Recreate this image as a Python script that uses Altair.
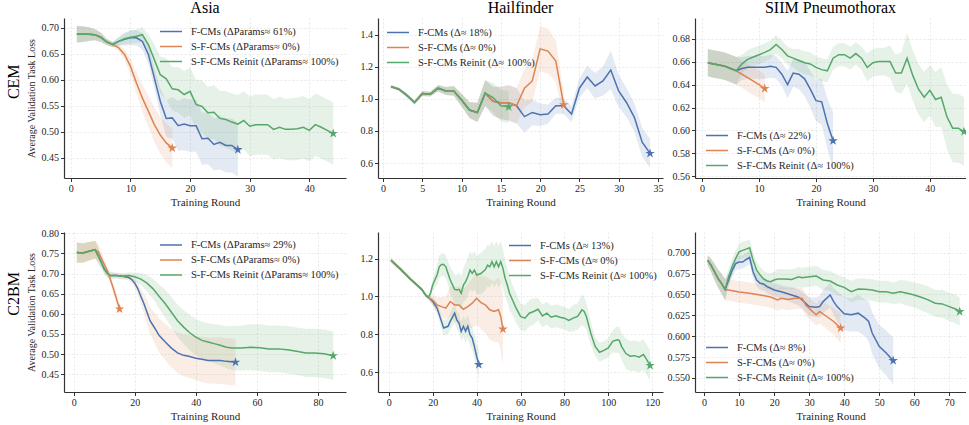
import altair as alt
import pandas as pd

BLUE, ORANGE, GREEN = "#4C72B0", "#DD8452", "#55A868"
FONT = "Liberation Serif"
STAR = ("M0,-1L0.225,-0.309L0.951,-0.309L0.363,0.118L0.588,0.809L0,0.382"
        "L-0.588,0.809L-0.363,0.118L-0.951,-0.309L-0.225,-0.309Z")

# ---------------- Asia / CEM ----------------
asia_cem_labels = ["F-CMs (ΔParams≈ 61%)", "S-F-CMs (ΔParams≈ 0%)", "S-F-CMs Reinit (ΔParams≈ 100%)"]
asia_cem_common_y = [0.688, 0.688, 0.688, 0.687, 0.682, 0.673, 0.668]
asia_cem_common_s = [0.016, 0.015, 0.013, 0.011, 0.009, 0.006, 0.005]
asia_cem_f_y = [0.674, 0.678, 0.681, 0.681, 0.674, 0.649, 0.604, 0.559, 0.526, 0.527, 0.512, 0.515,
                0.512, 0.512, 0.487, 0.488, 0.476, 0.480, 0.474, 0.474, 0.466]
asia_cem_f_s = [0.008, 0.012, 0.015, 0.015, 0.016, 0.018, 0.020, 0.025, 0.035, 0.040, 0.048, 0.050,
                0.050, 0.050, 0.050, 0.050, 0.050, 0.052, 0.052, 0.052, 0.052]
asia_cem_s_y = [0.662, 0.649, 0.626, 0.594, 0.565, 0.540, 0.514, 0.494, 0.479, 0.469]
asia_cem_s_s = [0.007, 0.010, 0.015, 0.020, 0.025, 0.030, 0.033, 0.035, 0.037, 0.038]
asia_cem_r_y = [0.674, 0.679, 0.682, 0.684, 0.687, 0.668, 0.639, 0.610, 0.602, 0.583, 0.581, 0.572,
                0.578, 0.553, 0.549, 0.537, 0.538, 0.526, 0.524, 0.519, 0.515, 0.522, 0.511, 0.514,
                0.514, 0.514, 0.505, 0.509, 0.505, 0.505, 0.506, 0.509, 0.503, 0.514, 0.509, 0.503, 0.497]
asia_cem_r_s = [0.008, 0.010, 0.012, 0.013, 0.014, 0.020, 0.030, 0.035, 0.040, 0.042, 0.044, 0.045,
                0.046, 0.048, 0.050, 0.050, 0.052, 0.053, 0.054, 0.055, 0.056, 0.056, 0.057, 0.058,
                0.058, 0.058, 0.058, 0.059, 0.059, 0.060, 0.060, 0.060, 0.060, 0.060, 0.060, 0.060, 0.060]

# ---------------- Hailfinder / CEM ----------------
hail_cem_labels = ["F-CMs (Δ≈ 18%)", "S-F-CMs (Δ≈ 0%)", "S-F-CMs Reinit (Δ≈ 100%)"]
hail_cem_common_y = [1.076, 1.060, 1.023, 0.977, 1.033, 1.029, 1.066, 1.049, 1.049, 0.992, 0.930, 0.915, 1.035]
hail_cem_common_s = [0.010, 0.010, 0.012, 0.012, 0.015, 0.015, 0.020, 0.025, 0.030, 0.040, 0.050, 0.060, 0.080]
hail_cem_shared_y = [0.985, 0.975, 0.975, 0.957]
hail_cem_shared_s = [0.090, 0.100, 0.110, 0.110]
hail_cem_f_y = [0.889, 0.915, 0.901, 0.905, 0.957, 0.957, 0.905, 1.066, 1.136, 1.080, 1.111, 1.179,
                1.049, 0.977, 0.885, 0.730, 0.660]
hail_cem_f_s = [0.100, 0.080, 0.070, 0.060, 0.050, 0.050, 0.050, 0.060, 0.070, 0.080, 0.090, 0.120,
                0.100, 0.090, 0.090, 0.090, 0.090]
hail_cem_s_y = [1.066, 1.111, 1.311, 1.297, 1.235, 0.963]
hail_cem_s_s = [0.120, 0.130, 0.140, 0.140, 0.130, 0.080]
hail_cem_r_y = [1.008, 0.957, 0.950]
hail_cem_r_s = [0.090, 0.100, 0.100]

# ---------------- SIIM / CEM ----------------
siim_cem_labels = ["F-CMs (Δ≈ 22%)", "S-F-CMs (Δ≈ 0%)", "S-F-CMs Reinit (Δ≈ 100%)"]
siim_cem_common_y = [0.659, 0.658, 0.657, 0.656, 0.654, 0.652]
siim_cem_common_s = [0.012, 0.012, 0.012, 0.012, 0.012, 0.012]
siim_cem_f_y = [0.654, 0.655, 0.655, 0.655, 0.655, 0.656, 0.655, 0.649, 0.640, 0.650, 0.649, 0.645,
                0.636, 0.626, 0.625, 0.606, 0.591]
siim_cem_f_s = [0.010, 0.010, 0.010, 0.010, 0.010, 0.010, 0.010, 0.010, 0.012, 0.012, 0.013, 0.015,
                0.016, 0.018, 0.020, 0.022, 0.025]
siim_cem_s_y = [0.649, 0.646, 0.643, 0.640, 0.6365]
siim_cem_s_s = [0.012, 0.012, 0.012, 0.012, 0.012]
siim_cem_r_y = [0.658, 0.662, 0.664, 0.666, 0.668, 0.6705, 0.675, 0.6705, 0.665, 0.663, 0.661, 0.659,
                0.658, 0.655, 0.653, 0.652, 0.663, 0.666, 0.666, 0.663, 0.667, 0.663, 0.655, 0.659,
                0.660, 0.660, 0.660, 0.650, 0.650, 0.663, 0.648, 0.636, 0.629, 0.635, 0.627, 0.629,
                0.612, 0.602, 0.602, 0.599]
siim_cem_r_s = [0.008, 0.008, 0.008, 0.008, 0.008, 0.008, 0.008, 0.008, 0.008, 0.008, 0.010, 0.010,
                0.010, 0.010, 0.010, 0.010, 0.010, 0.010, 0.010, 0.010, 0.010, 0.010, 0.012, 0.012,
                0.012, 0.012, 0.014, 0.016, 0.018, 0.022, 0.022, 0.022, 0.022, 0.022, 0.024, 0.026,
                0.028, 0.030, 0.030, 0.030]

# ---------------- Asia / C2BM ----------------
asia_c2_labels = ["F-CMs (ΔParams≈ 29%)", "S-F-CMs (ΔParams≈ 0%)", "S-F-CMs Reinit (ΔParams≈ 100%)"]
asia_c2_common_x = [1, 3, 5, 7]
asia_c2_common_y = [0.752, 0.751, 0.755, 0.759]
asia_c2_common_s = [0.025, 0.024, 0.023, 0.022]
asia_c2_s_x = [8, 10, 11, 12, 13, 14, 15]
asia_c2_s_y = [0.754, 0.723, 0.707, 0.685, 0.662, 0.637, 0.612]
asia_c2_s_s = [0.020, 0.012, 0.010, 0.010, 0.012, 0.014, 0.015]
asia_c2_shared_x = [8, 9, 10, 11, 12, 14, 16]
asia_c2_shared_y = [0.744, 0.728, 0.711, 0.700, 0.695, 0.695, 0.693]
asia_c2_shared_s = [0.020, 0.015, 0.012, 0.010, 0.008, 0.007, 0.007]
asia_c2_f_x = [18, 19, 20, 21, 22, 23, 24, 25, 26, 27, 28, 30, 32, 34, 36, 38, 40, 42, 44, 46, 48, 50, 53]
asia_c2_f_y = [0.690, 0.685, 0.676, 0.662, 0.643, 0.625, 0.604, 0.583, 0.571, 0.559, 0.546, 0.530,
               0.515, 0.503, 0.497, 0.494, 0.490, 0.487, 0.484, 0.484, 0.484, 0.482, 0.480]
asia_c2_f_s = [0.008, 0.010, 0.012, 0.015, 0.020, 0.025, 0.030, 0.033, 0.036, 0.040, 0.042, 0.045,
               0.048, 0.050, 0.052, 0.053, 0.055, 0.056, 0.057, 0.057, 0.058, 0.058, 0.058]
asia_c2_r_x = [18, 20, 22, 24, 26, 28, 30, 32, 34, 36, 38, 40, 42, 44, 46, 48, 50, 52, 55, 58, 61, 64,
               67, 70, 73, 76, 79, 82, 85]
asia_c2_r_y = [0.695, 0.692, 0.686, 0.676, 0.662, 0.643, 0.625, 0.604, 0.583, 0.567, 0.553, 0.542,
               0.534, 0.530, 0.526, 0.522, 0.517, 0.515, 0.515, 0.517, 0.516, 0.513, 0.513, 0.511,
               0.507, 0.503, 0.503, 0.501, 0.496]
asia_c2_r_s = [0.008, 0.010, 0.015, 0.020, 0.025, 0.030, 0.035, 0.038, 0.040, 0.042, 0.044, 0.045,
               0.046, 0.047, 0.048, 0.050, 0.052, 0.055, 0.056, 0.057, 0.058, 0.058, 0.058, 0.059,
               0.059, 0.060, 0.060, 0.060, 0.060]

# ---------------- Hailfinder / C2BM ----------------
hail_c2_labels = ["F-CMs (Δ≈ 13%)", "S-F-CMs (Δ≈ 0%)", "S-F-CMs Reinit (Δ≈ 100%)"]
hail_c2_common_x = [1, 5, 10, 15, 17, 18]
hail_c2_common_y = [1.191, 1.148, 1.090, 1.037, 1.004, 0.995]
hail_c2_common_s = [0.012, 0.010, 0.008, 0.008, 0.008, 0.010]
hail_c2_f_x = [20, 22, 24, 25, 27, 28, 30, 31, 32, 33, 34, 35, 36, 37, 38, 39, 40, 41]
hail_c2_f_y = [0.973, 0.938, 0.868, 0.833, 0.842, 0.868, 0.911, 0.876, 0.859, 0.815, 0.842, 0.815,
               0.842, 0.798, 0.780, 0.736, 0.684, 0.640]
hail_c2_f_s = [0.020, 0.030, 0.035, 0.040, 0.040, 0.045, 0.050, 0.050, 0.050, 0.050, 0.055, 0.060,
               0.060, 0.060, 0.060, 0.065, 0.070, 0.075]
hail_c2_s_x = [20, 22, 24, 26, 27, 28, 30, 32, 34, 36, 38, 40, 42, 44, 46, 48, 50, 51, 52]
hail_c2_s_y = [0.981, 0.955, 0.946, 0.938, 0.955, 0.973, 0.955, 0.955, 0.932, 0.946, 0.964, 0.990,
               0.967, 0.955, 0.929, 0.920, 0.929, 0.894, 0.827]
hail_c2_s_s = [0.030, 0.040, 0.050, 0.060, 0.070, 0.080, 0.090, 0.100, 0.110, 0.120, 0.130, 0.140,
               0.140, 0.150, 0.160, 0.160, 0.170, 0.180, 0.190]
hail_c2_r_x = [19, 20, 22, 23, 24, 25, 26, 27, 28, 30, 31, 32, 33, 34, 35, 36, 37, 38, 39, 40, 42, 44,
               45, 46, 47, 48, 49, 50, 51, 52, 53, 54, 55, 56, 57, 58, 60, 62, 64, 66, 68, 70, 72, 74,
               76, 78, 80, 82, 84, 86, 88, 89, 90, 92, 94, 96, 98, 100, 102, 104, 105, 106, 108, 110,
               112, 114, 116, 117, 119]
hail_c2_r_y = [1.016, 1.060, 1.113, 1.156, 1.168, 1.168, 1.156, 1.121, 1.086, 1.037, 1.034, 1.037,
               1.016, 1.060, 1.078, 1.104, 1.139, 1.121, 1.139, 1.113, 1.121, 1.142, 1.165, 1.156,
               1.183, 1.156, 1.183, 1.156, 1.183, 1.148, 1.095, 1.060, 1.016, 0.990, 0.964, 0.938,
               0.894, 0.885, 0.911, 0.920, 0.932, 0.897, 0.911, 0.890, 0.897, 0.890, 0.885, 0.873,
               0.885, 0.894, 0.929, 0.920, 0.894, 0.806, 0.736, 0.705, 0.715, 0.728, 0.763, 0.771,
               0.768, 0.736, 0.698, 0.684, 0.687, 0.679, 0.693, 0.675, 0.635]
hail_c2_r_s = [0.020, 0.030, 0.050, 0.060, 0.060, 0.060, 0.060, 0.060, 0.070,
               0.080, 0.080, 0.090, 0.090, 0.090, 0.100, 0.100, 0.100, 0.100, 0.100, 0.100,
               0.110, 0.110, 0.110, 0.110, 0.110, 0.110, 0.110, 0.110, 0.110, 0.100,
               0.100, 0.090, 0.090, 0.080, 0.080, 0.080,
               0.070, 0.070, 0.070, 0.070, 0.060, 0.060, 0.060, 0.060, 0.060, 0.060, 0.060, 0.060,
               0.070, 0.070,
               0.080, 0.080, 0.070, 0.060, 0.050,
               0.050, 0.050, 0.050, 0.060, 0.070, 0.070, 0.070, 0.080, 0.080, 0.080, 0.080, 0.080,
               0.080, 0.080]

# ---------------- SIIM / C2BM ----------------
siim_c2_labels = ["F-CMs (Δ≈ 8%)", "S-F-CMs (Δ≈ 0%)", "S-F-CMs Reinit (Δ≈ 100%)"]
siim_c2_common_x = [1, 2, 3, 4, 5, 6]
siim_c2_common_y = [0.6912, 0.685, 0.677, 0.669, 0.663, 0.656]
siim_c2_common_s = [0.006, 0.008, 0.010, 0.011, 0.012, 0.013]
siim_c2_s_x = [7, 10, 13, 16, 19, 21, 22, 24, 26, 28, 29, 31, 32, 33, 35, 37, 39]
siim_c2_s_y = [0.6554, 0.653, 0.6515, 0.6495, 0.647, 0.6435, 0.6455, 0.644, 0.6455, 0.6455, 0.6375,
               0.6295, 0.6256, 0.6295, 0.6236, 0.6176, 0.6097]
siim_c2_s_s = [0.013, 0.013, 0.013, 0.013, 0.013, 0.013, 0.013, 0.013, 0.013, 0.013, 0.013, 0.013,
               0.013, 0.014, 0.015, 0.016, 0.018]
siim_c2_f_x = [7, 8, 9, 10, 11, 12, 13, 14, 15, 16, 17, 18, 20, 22, 23, 25, 27, 28, 30, 32, 33, 34,
               36, 37, 38, 40, 42, 44, 46, 47, 48, 50, 52, 54]
siim_c2_f_y = [0.6674, 0.679, 0.687, 0.689, 0.689, 0.692, 0.6944, 0.677, 0.6674, 0.6634, 0.6626,
               0.6594, 0.6554, 0.6534, 0.6522, 0.6495, 0.6467, 0.6435, 0.6355, 0.6347, 0.6355,
               0.6415, 0.6495, 0.6415, 0.6355, 0.6268, 0.6256, 0.6276, 0.6216, 0.6176, 0.6037,
               0.5878, 0.5798, 0.5707]
siim_c2_f_s = [0.008, 0.008, 0.008, 0.008, 0.008, 0.008, 0.008, 0.008, 0.008, 0.008, 0.008, 0.008,
               0.008, 0.008, 0.008, 0.009, 0.010, 0.010, 0.011, 0.012, 0.013, 0.014, 0.015, 0.016,
               0.018, 0.020, 0.020, 0.022, 0.022, 0.024, 0.025, 0.026, 0.027, 0.028]
siim_c2_r_x = [7, 8, 9, 10, 11, 12, 13, 14, 15, 16, 17, 18, 19, 20, 21, 23, 25, 27, 28, 30, 32, 34,
               36, 38, 40, 42, 44, 46, 48, 50, 52, 54, 56, 58, 60, 62, 64, 66, 68, 70, 72, 73]
siim_c2_r_y = [0.6713, 0.6833, 0.6932, 0.7012, 0.703, 0.7044, 0.706, 0.691, 0.6793, 0.6733, 0.6686,
               0.6662, 0.6654, 0.6674, 0.6686, 0.6686, 0.668, 0.6713, 0.670, 0.6713, 0.6721, 0.6674,
               0.6662, 0.6614, 0.6586, 0.6534, 0.6566, 0.6562, 0.6554, 0.6534, 0.6534, 0.6515,
               0.6534, 0.6515, 0.6495, 0.6467, 0.6435, 0.6395, 0.6387, 0.6355, 0.6323, 0.6295]
siim_c2_r_s = [0.010, 0.010, 0.010, 0.010, 0.010, 0.010, 0.010, 0.010, 0.010, 0.010, 0.010, 0.010,
               0.010, 0.010, 0.012, 0.012, 0.012, 0.012, 0.012, 0.012, 0.012, 0.012, 0.012, 0.012,
               0.012, 0.013, 0.013, 0.013, 0.013, 0.013, 0.013, 0.013, 0.014, 0.015, 0.015, 0.016,
               0.016, 0.016, 0.017, 0.017, 0.017, 0.017]


def seq(start, n):
    return list(range(start, start + n))


def frame(series, labels):
    rows = []
    for (xs, ys, ss), lab in zip(series, labels):
        for xv, yv, sv in zip(xs, ys, ss):
            rows.append({"x": xv, "y": yv, "lo": yv - sv, "hi": yv + sv, "s": lab})
    return pd.DataFrame(rows)


def panel(series, labels, xdom, ydom, xvals, yvals, yfmt, leg_xy, w, h,
          title=None, ytitle=None):
    df = frame(series, labels)
    ends = df.groupby("s", sort=False).tail(1)
    cs = alt.Scale(domain=labels, range=[BLUE, ORANGE, GREEN])
    xs = alt.Scale(domain=xdom, nice=False, zero=False)
    ys = alt.Scale(domain=ydom, nice=False, zero=False)
    xax = alt.Axis(values=xvals, format="d", title="Training Round")
    yax = alt.Axis(values=yvals, format=yfmt, title=ytitle)
    x = alt.X("x:Q", scale=xs, axis=xax)
    band = alt.Chart(df).mark_area(opacity=0.15, clip=True).encode(
        x=x,
        y=alt.Y("lo:Q", scale=ys, axis=yax),
        y2="hi:Q",
        fill=alt.Fill("s:N", scale=cs, legend=None),
    )
    line = alt.Chart(df).mark_line(strokeWidth=1.5, clip=True).encode(
        x=x,
        y=alt.Y("y:Q", scale=ys, axis=yax),
        color=alt.Color("s:N", scale=cs, legend=alt.Legend(
            title=None, orient="none", legendX=leg_xy[0], legendY=leg_xy[1], padding=0,
            symbolType="stroke", symbolSize=484, symbolStrokeWidth=1.5,
            labelFont=FONT, labelFontSize=10.5, labelColor="#262626", labelOffset=8,
            labelLimit=400, clipHeight=15, rowPadding=0)),
    )
    star = alt.Chart(ends).mark_point(shape=STAR, filled=True, size=100, opacity=1, clip=True).encode(
        x=x,
        y=alt.Y("y:Q", scale=ys, axis=yax),
        color=alt.Color("s:N", scale=cs, legend=None),
    )
    props = dict(width=w, height=h)
    if title:
        props["title"] = alt.TitleParams(title, font=FONT, fontSize=16, fontWeight="normal",
                                         color="black", offset=2)
    return alt.layer(band, line, star).properties(**props)


YT = "Average Validation Task Loss"
H = 160
W1, W2, W3 = 282, 285, 271

p_asia_cem = panel(
    [(seq(1, 28), asia_cem_common_y + asia_cem_f_y, asia_cem_common_s + asia_cem_f_s),
     (seq(1, 17), asia_cem_common_y + asia_cem_s_y, asia_cem_common_s + asia_cem_s_s),
     (seq(1, 44), asia_cem_common_y + asia_cem_r_y, asia_cem_common_s + asia_cem_r_s)],
    asia_cem_labels, [-1.15, 46.15], [0.4115, 0.719], [0, 10, 20, 30, 40],
    [0.45, 0.50, 0.55, 0.60, 0.65, 0.70], ".2f", (95, 6), W1, H, "Asia", YT)

p_hail_cem = panel(
    [(seq(1, 34), hail_cem_common_y + hail_cem_shared_y + hail_cem_f_y,
      hail_cem_common_s + hail_cem_shared_s + hail_cem_f_s),
     (seq(1, 23), hail_cem_common_y + hail_cem_shared_y + hail_cem_s_y,
      hail_cem_common_s + hail_cem_shared_s + hail_cem_s_s),
     (seq(1, 16), hail_cem_common_y + hail_cem_r_y, hail_cem_common_s + hail_cem_r_s)],
    hail_cem_labels, [-0.65, 35.65], [0.507, 1.503], [0, 5, 10, 15, 20, 25, 30, 35],
    [0.6, 0.8, 1.0, 1.2, 1.4], ".1f", (8, 7), W2, H, "Hailfinder")

p_siim_cem = panel(
    [(seq(1, 23), siim_cem_common_y + siim_cem_f_y, siim_cem_common_s + siim_cem_f_s),
     (seq(1, 11), siim_cem_common_y + siim_cem_s_y, siim_cem_common_s + siim_cem_s_s),
     (seq(1, 46), siim_cem_common_y + siim_cem_r_y, siim_cem_common_s + siim_cem_r_s)],
    siim_cem_labels, [-1.25, 46.35], [0.5586, 0.698], [0, 10, 20, 30, 40],
    [0.56, 0.58, 0.60, 0.62, 0.64, 0.66, 0.68], ".2f", (10, 110), W3, H, "SIIM Pneumothorax")

p_asia_c2 = panel(
    [(asia_c2_common_x + asia_c2_shared_x + asia_c2_f_x,
      asia_c2_common_y + asia_c2_shared_y + asia_c2_f_y,
      asia_c2_common_s + asia_c2_shared_s + asia_c2_f_s),
     (asia_c2_common_x + asia_c2_s_x, asia_c2_common_y + asia_c2_s_y, asia_c2_common_s + asia_c2_s_s),
     (asia_c2_common_x + asia_c2_shared_x + asia_c2_r_x,
      asia_c2_common_y + asia_c2_shared_y + asia_c2_r_y,
      asia_c2_common_s + asia_c2_shared_s + asia_c2_r_s)],
    asia_c2_labels, [-3.2, 89.2], [0.406, 0.803], [0, 20, 40, 60, 80],
    [0.45, 0.50, 0.55, 0.60, 0.65, 0.70, 0.75, 0.80], ".2f", (95, 5.5), W1, H, None, YT)

p_hail_c2 = panel(
    [(hail_c2_common_x + hail_c2_f_x, hail_c2_common_y + hail_c2_f_y, hail_c2_common_s + hail_c2_f_s),
     (hail_c2_common_x + hail_c2_s_x, hail_c2_common_y + hail_c2_s_y, hail_c2_common_s + hail_c2_s_s),
     (hail_c2_common_x + hail_c2_r_x, hail_c2_common_y + hail_c2_r_y, hail_c2_common_s + hail_c2_r_s)],
    hail_c2_labels, [-4.9, 124.9], [0.495, 1.34], [0, 20, 40, 60, 80, 100, 120],
    [0.6, 0.8, 1.0, 1.2], ".1f", (130, 6), W2, H)

p_siim_c2 = panel(
    [(siim_c2_common_x + siim_c2_f_x, siim_c2_common_y + siim_c2_f_y, siim_c2_common_s + siim_c2_f_s),
     (siim_c2_common_x + siim_c2_s_x, siim_c2_common_y + siim_c2_s_y, siim_c2_common_s + siim_c2_s_s),
     (siim_c2_common_x + siim_c2_r_x, siim_c2_common_y + siim_c2_r_y, siim_c2_common_s + siim_c2_r_s)],
    siim_c2_labels, [-2.6, 74.8], [0.533, 0.725], [0, 10, 20, 30, 40, 50, 60, 70],
    [0.550, 0.575, 0.600, 0.625, 0.650, 0.675, 0.700], ".3f", (10, 108), W3, H)


def row(charts, label, shift):
    return alt.hconcat(*charts, spacing=32, bounds="flush").properties(
        title=alt.TitleParams(label, orient="left", font=FONT, fontSize=16, fontWeight="normal",
                              color="black", offset=4, anchor="middle", dx=shift)
    ).resolve_scale(color="independent", x="independent", y="independent").resolve_legend(
        color="independent")


chart = alt.vconcat(
    row([p_asia_cem, p_hail_cem, p_siim_cem], "CEM", 22),
    row([p_asia_c2, p_hail_c2, p_siim_c2], "C2BM", 31),
    spacing=20,
).resolve_scale(color="independent", x="independent", y="independent").resolve_legend(
    color="independent"
).properties(
    padding={"left": 6, "top": 0, "right": 0, "bottom": 0}
).configure(font=FONT).configure_axis(
    labelFont=FONT, titleFont=FONT, labelFontSize=10, titleFontSize=11, titleFontWeight="normal",
    labelColor="#262626", titleColor="#262626", domainColor="#333333", domainWidth=1.2,
    tickColor="#333333", tickSize=3.5, labelPadding=2, gridColor="#e3e3e3", gridDash=[2, 2],
    gridWidth=0.8, titlePadding=3,
).configure_axisY(titleFontSize=10, titlePadding=5).configure_view(stroke=None)

chart.save("out.html", embed_options={"renderer": "svg", "actions": False})
